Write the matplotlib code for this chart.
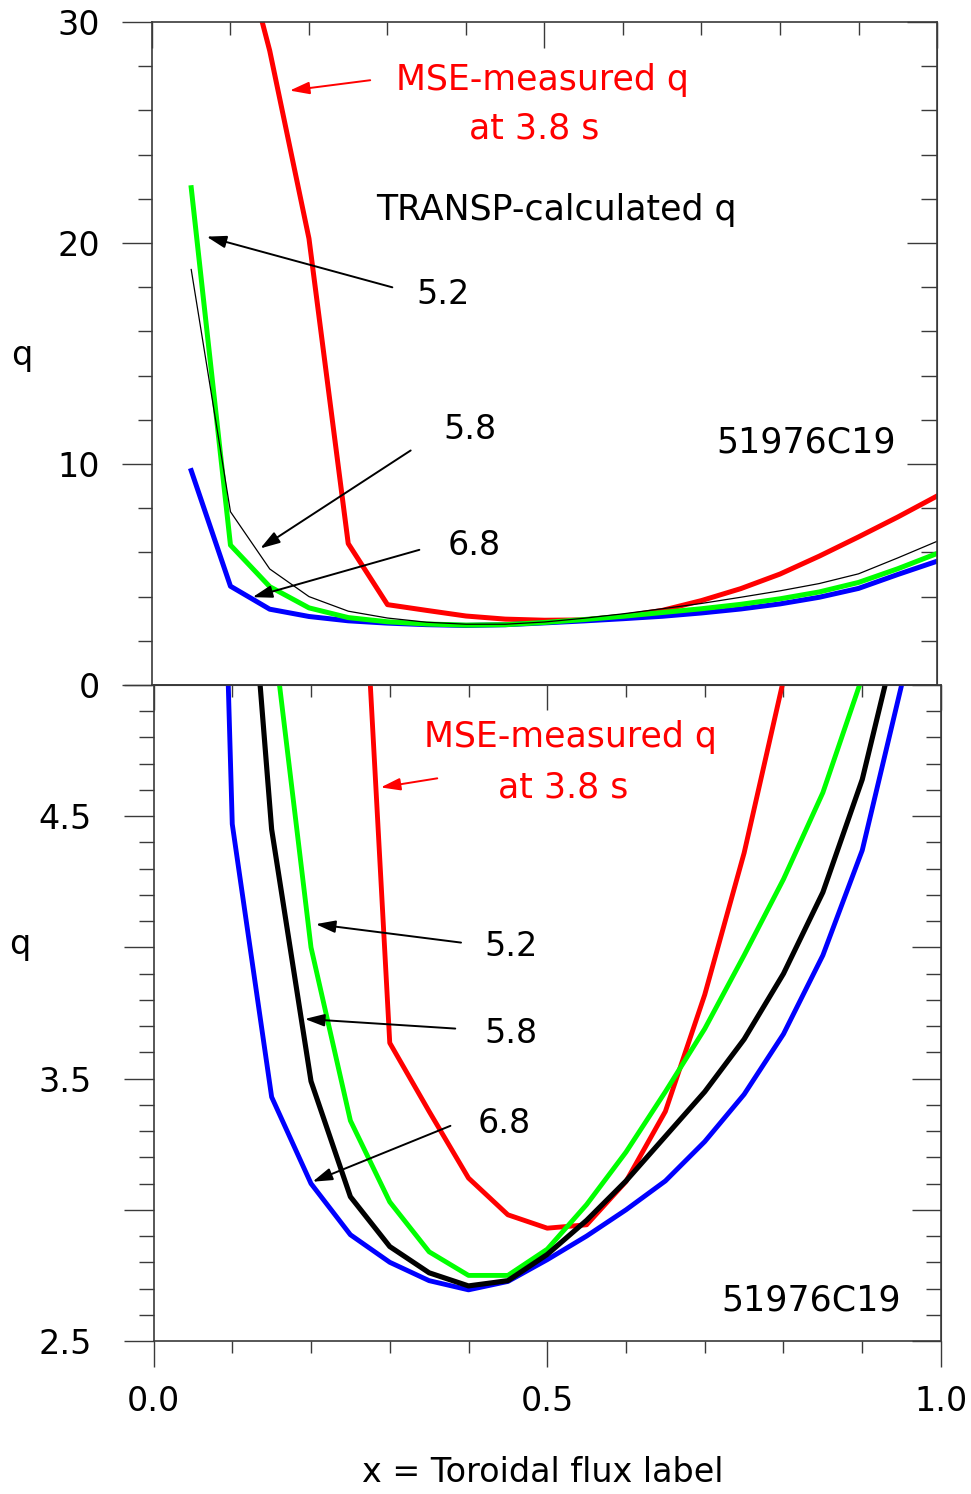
import matplotlib
matplotlib.use("Agg")
import matplotlib.pyplot as plt
from matplotlib.ticker import MultipleLocator, FixedLocator, FuncFormatter

# toroidal flux label grid
x = [0.05, 0.10, 0.15, 0.20, 0.25, 0.30, 0.35, 0.40, 0.45, 0.50,
     0.55, 0.60, 0.65, 0.70, 0.75, 0.80, 0.85, 0.90, 0.95, 1.00]
x_mse = x[1:]

# TRANSP-calculated q at 5.2, 5.8 and 6.8 s, and MSE-measured q at 3.8 s
q_52 = [18.8, 7.84, 5.25, 4.00, 3.34, 3.03, 2.84, 2.75, 2.75, 2.85,
        3.02, 3.22, 3.45, 3.69, 3.97, 4.26, 4.59, 5.03, 5.75, 6.50]
q_58 = [22.5, 6.33, 4.45, 3.49, 3.05, 2.86, 2.76, 2.71, 2.73, 2.83,
        2.96, 3.11, 3.28, 3.45, 3.65, 3.90, 4.21, 4.64, 5.26, 5.95]
q_68 = [9.7, 4.47, 3.43, 3.10, 2.905, 2.80, 2.73, 2.695, 2.727, 2.81,
        2.90, 3.00, 3.11, 3.26, 3.44, 3.67, 3.97, 4.37, 5.00, 5.60]
q_mse = [35.5, 28.7, 20.2, 6.4, 3.636, 3.375, 3.121, 2.981, 2.93, 2.943,
         3.108, 3.375, 3.82, 4.36, 5.02, 5.83, 6.70, 7.60, 8.55]

shot = "51976C19"
spine_col = "#3a3a3a"
fs = 24

fig = plt.figure(figsize=(9.71, 14.94), dpi=100)
ax1 = fig.add_axes([0.1565, 0.5415, 0.8085, 0.4438])
ax2 = fig.add_axes([0.1581, 0.1024, 0.8110, 0.4391])


def style_axes(ax):
    for s in ax.spines.values():
        s.set_color(spine_col)
        s.set_linewidth(1.2)


# ---- top panel: full range
ax1.plot(x_mse, q_mse, color="#ff0000", lw=3.6)
ax1.plot(x, q_68, color="#0000ff", lw=3.6)
# in the upper plot the green thick curve and the thin black curve are drawn swapped
ax1.plot(x, q_58, color="#00ff00", lw=3.6)
ax1.plot(x, q_52, color="black", lw=0.9)
ax1.set_xlim(0, 1)
ax1.set_ylim(0, 30)
style_axes(ax1)

ax1.xaxis.set_major_locator(MultipleLocator(0.5))
ax1.xaxis.set_minor_locator(MultipleLocator(0.1))
ax1.tick_params(axis="x", which="both", bottom=False, top=True, labelbottom=False,
                direction="in", color=spine_col, width=1.0)
ax1.tick_params(axis="x", which="major", length=18.7)
ax1.tick_params(axis="x", which="minor", length=9.4)

ax1.yaxis.set_major_locator(MultipleLocator(10))
ax1.yaxis.set_minor_locator(MultipleLocator(2))
ax1.yaxis.set_major_formatter(FuncFormatter(lambda v, p: "%d" % v))
ax1.tick_params(axis="y", which="both", left=True, right=False, direction="out",
                color=spine_col, width=1.0, labelsize=fs)
ax1.tick_params(axis="y", which="major", length=21.6, pad=16)
ax1.tick_params(axis="y", which="minor", length=10)
r1 = ax1.secondary_yaxis("right")
r1.yaxis.set_major_locator(MultipleLocator(10))
r1.yaxis.set_minor_locator(MultipleLocator(2))
r1.tick_params(axis="y", which="both", direction="in", labelright=False,
               color=spine_col, width=1.0)
r1.tick_params(axis="y", which="major", length=21.6)
r1.tick_params(axis="y", which="minor", length=11.5)
r1.spines["right"].set_color(spine_col)

ax1.set_ylabel("q", rotation=0, fontsize=fs, va="center", ha="center")
ax1.yaxis.set_label_coords(-0.1656, 0.4977)

red_arrow = dict(arrowstyle="-|>,head_length=0.7,head_width=0.22", color="#ff0000",
                 lw=1.4, mutation_scale=17)
blk_arrow = dict(arrowstyle="-|>,head_length=0.7,head_width=0.22", color="black",
                 lw=1.4, mutation_scale=17)

ax1.text(0.497, 27.38, "MSE-measured q", color="#ff0000", fontsize=25, ha="center", va="center")
ax1.text(0.487, 25.2, "at 3.8 s", color="#ff0000", fontsize=25, ha="center", va="center")
ax1.annotate("", xy=(0.172, 26.88), xytext=(0.2815, 27.38), arrowprops=red_arrow)
ax1.text(0.5146, 21.49, "TRANSP-calculated q", fontsize=25, ha="center", va="center")
ax1.text(0.3707, 17.65, "5.2", fontsize=fs, ha="center", va="center")
ax1.annotate("", xy=(0.0662, 20.32), xytext=(0.3096, 17.96), arrowprops=blk_arrow)
ax1.text(0.405, 11.54, "5.8", fontsize=fs, ha="center", va="center")
ax1.annotate("", xy=(0.135, 6.11), xytext=(0.3325, 10.68), arrowprops=blk_arrow)
ax1.text(0.41, 6.29, "6.8", fontsize=fs, ha="center", va="center")
ax1.annotate("", xy=(0.1248, 3.94), xytext=(0.344, 6.15), arrowprops=blk_arrow)
ax1.text(0.833, 10.95, shot, fontsize=25, ha="center", va="center")

# ---- bottom panel: zoom on the q minimum
ax2.plot(x_mse, q_mse, color="#ff0000", lw=3.5)
ax2.plot(x, q_68, color="#0000ff", lw=3.5)
ax2.plot(x, q_52, color="#00ff00", lw=3.5)
ax2.plot(x, q_58, color="black", lw=3.7)
ax2.set_xlim(0, 1)
ax2.set_ylim(2.5, 5.0)
style_axes(ax2)

ax2.xaxis.set_major_locator(MultipleLocator(0.5))
ax2.xaxis.set_minor_locator(MultipleLocator(0.1))
ax2.xaxis.set_major_formatter(FuncFormatter(lambda v, p: "%.1f" % v))
ax2.tick_params(axis="x", which="both", bottom=True, top=False, direction="out",
                color=spine_col, width=1.0, labelsize=fs)
ax2.tick_params(axis="x", which="major", length=18.7, pad=13)
ax2.tick_params(axis="x", which="minor", length=8.6)
t2 = ax2.secondary_xaxis("top")
t2.xaxis.set_major_locator(MultipleLocator(0.5))
t2.xaxis.set_minor_locator(MultipleLocator(0.1))
t2.tick_params(axis="x", which="both", direction="in", labeltop=False,
               color=spine_col, width=1.0)
t2.tick_params(axis="x", which="major", length=18)
t2.tick_params(axis="x", which="minor", length=8.6)
t2.spines["top"].set_color(spine_col)

ylabels2 = {2.5: "2.5", 3.5: "3.5", 4.5: "4.5"}
ax2.yaxis.set_major_locator(FixedLocator([2.5, 3.0, 3.5, 4.0, 4.5, 5.0]))
ax2.yaxis.set_minor_locator(MultipleLocator(0.1))
ax2.yaxis.set_major_formatter(FuncFormatter(lambda v, p: ylabels2.get(round(v, 1), "")))
ax2.tick_params(axis="y", which="both", left=True, right=False, direction="out",
                color=spine_col, width=1.0, labelsize=fs)
ax2.tick_params(axis="y", which="major", length=21.6, pad=23)
ax2.tick_params(axis="y", which="minor", length=10.8)
r2 = ax2.secondary_yaxis("right")
r2.yaxis.set_major_locator(FixedLocator([2.5, 3.0, 3.5, 4.0, 4.5, 5.0]))
r2.yaxis.set_minor_locator(MultipleLocator(0.1))
r2.tick_params(axis="y", which="both", direction="in", labelright=False,
               color=spine_col, width=1.0)
r2.tick_params(axis="y", which="major", length=21)
r2.tick_params(axis="y", which="minor", length=10.8)
r2.spines["right"].set_color(spine_col)

ax2.set_ylabel("q", rotation=0, fontsize=fs, va="center", ha="center")
ax2.yaxis.set_label_coords(-0.1695, 0.6037)

ax2.text(0.530, 4.802, "MSE-measured q", color="#ff0000", fontsize=25, ha="center", va="center")
ax2.text(0.520, 4.611, "at 3.8 s", color="#ff0000", fontsize=25, ha="center", va="center")
ax2.annotate("", xy=(0.285, 4.608), xytext=(0.3638, 4.646), arrowprops=red_arrow)
ax2.text(0.454, 4.002, "5.2", fontsize=fs, ha="center", va="center")
ax2.annotate("", xy=(0.2025, 4.09), xytext=(0.394, 4.017), arrowprops=blk_arrow)
ax2.text(0.454, 3.67, "5.8", fontsize=fs, ha="center", va="center")
ax2.annotate("", xy=(0.1886, 3.728), xytext=(0.3867, 3.69), arrowprops=blk_arrow)
ax2.text(0.445, 3.328, "6.8", fontsize=fs, ha="center", va="center")
ax2.annotate("", xy=(0.1987, 3.103), xytext=(0.3803, 3.324), arrowprops=blk_arrow)
ax2.text(0.835, 2.653, shot, fontsize=25, ha="center", va="center")

fig.text(0.559, 0.0141, "x = Toroidal flux label", fontsize=fs, ha="center", va="center")

fig.savefig("out.png", dpi=100)
